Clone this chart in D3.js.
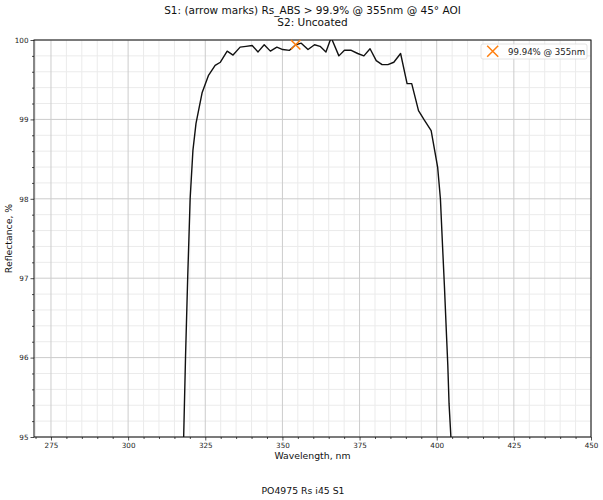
<!DOCTYPE html>
<html><head><meta charset="utf-8">
<script src="https://cdn.jsdelivr.net/npm/d3@7"></script>
<style>body{margin:0;background:#fff}svg{display:block}text{font-family:"DejaVu Sans",sans-serif}</style>
</head><body>
<svg id="c" width="603" height="500"></svg>
<script>
const titleLines = ["S1: (arrow marks) Rs_ABS > 99.9% @ 355nm @ 45° AOI", "S2: Uncoated"];
const xLabel = "Wavelength, nm";
const yLabel = "Reflectance, %";
const footer = "PO4975 Rs i45 S1";
const xTicks = [275, 300, 325, 350, 375, 400, 425, 450];
const yTicks = [95, 96, 97, 98, 99, 100];
const wavelength = [317.5, 318.0, 318.6, 319.3, 320.1, 321.0, 322.0, 324.0, 326.0, 328.2, 329.9, 332.1, 334.0, 336.3, 338.2, 340.2, 342.1, 344.1, 346.1, 348.2, 350.1, 352.3, 354.3, 356.1, 358.3, 360.4, 362.2, 364.1, 365.8, 368.3, 370.1, 372.3, 374.4, 376.4, 378.4, 380.4, 382.3, 384.2, 386.1, 388.3, 390.4, 391.9, 394.1, 396.0, 398.2, 400.3, 401.2, 401.9, 402.5, 403.2, 403.6, 404.0, 404.6, 405.0];
const reflectance = [94.6, 95.0, 96.0, 97.0, 98.0, 98.61, 98.95, 99.34, 99.55, 99.68, 99.72, 99.86, 99.81, 99.91, 99.92, 99.93, 99.85, 99.94, 99.86, 99.91, 99.88, 99.87, 99.94, 99.96, 99.88, 99.94, 99.92, 99.85, 100.03, 99.80, 99.87, 99.87, 99.83, 99.80, 99.89, 99.74, 99.69, 99.69, 99.72, 99.83, 99.45, 99.45, 99.11, 98.99, 98.86, 98.40, 98.0, 97.40, 96.9, 96.26, 95.9, 95.42, 95.0, 94.5];
const markWl = [354.3];
const markR = [99.94];
const legendText = "99.94% @ 355nm";

const svg = d3.select("#c");
const L = 34, R = 591, T = 40, B = 437;
const x = d3.scaleLinear().domain([269.5, 450]).range([L, R]);
const y = d3.scaleLinear().domain([95, 100]).range([B, T]);

svg.append("defs").append("clipPath").attr("id", "clip")
  .append("rect").attr("x", L).attr("y", T).attr("width", R - L).attr("height", B - T);

const g = svg.append("g");
const xMinor = d3.range(270, 451, 5).filter(v => v % 25 !== 0);
const yMinor = d3.range(95, 100.001, 0.2).map(v => +v.toFixed(1)).filter(v => Math.abs(v - Math.round(v)) > 1e-6);

// minor grid
g.selectAll(".xm").data(xMinor).enter().append("line")
  .attr("x1", d => x(d)).attr("x2", d => x(d)).attr("y1", T).attr("y2", B)
  .attr("stroke", "#ebebeb").attr("stroke-width", 1);
g.selectAll(".ym").data(yMinor).enter().append("line")
  .attr("y1", d => y(d)).attr("y2", d => y(d)).attr("x1", L).attr("x2", R)
  .attr("stroke", "#ebebeb").attr("stroke-width", 1);
// major grid
g.selectAll(".xg").data(xTicks).enter().append("line")
  .attr("x1", d => x(d)).attr("x2", d => x(d)).attr("y1", T).attr("y2", B)
  .attr("stroke", "#cccccc").attr("stroke-width", 1);
g.selectAll(".yg").data(yTicks).enter().append("line")
  .attr("y1", d => y(d)).attr("y2", d => y(d)).attr("x1", L).attr("x2", R)
  .attr("stroke", "#cccccc").attr("stroke-width", 1);

// axes
const xAxis = d3.axisBottom(x).tickValues(xTicks).tickSize(3.5).tickPadding(2).tickFormat(d3.format("d"));
const yAxis = d3.axisLeft(y).tickValues(yTicks).tickSize(3.5).tickPadding(2).tickFormat(d3.format("d"));
const xa = svg.append("g").attr("transform", `translate(0,${B})`).call(xAxis);
const ya = svg.append("g").attr("transform", `translate(${L},0)`).call(yAxis);
const xmA = svg.append("g").attr("transform", `translate(0,${B})`).call(d3.axisBottom(x).tickValues(xMinor).tickSize(2).tickFormat(""));
const ymA = svg.append("g").attr("transform", `translate(${L},0)`).call(d3.axisLeft(y).tickValues(yMinor).tickSize(2).tickFormat(""));
[xa, ya, xmA, ymA].forEach(a => {
  a.select(".domain").remove();
  a.selectAll("line").attr("stroke", "#222").attr("stroke-width", 0.8);
  a.selectAll("text").attr("font-size", 7.2).attr("fill", "#222").attr("font-family", "DejaVu Sans");
});

// line
const pts = wavelength.map((w, i) => [w, reflectance[i]]);
svg.append("path").datum(pts).attr("clip-path", "url(#clip)")
  .attr("fill", "none").attr("stroke", "#111").attr("stroke-width", 1.4).attr("stroke-linejoin", "round")
  .attr("d", d3.line().x(d => x(d[0])).y(d => y(d[1])));

// spines
svg.append("rect").attr("x", L).attr("y", T).attr("width", R - L).attr("height", B - T)
  .attr("fill", "none").attr("stroke", "#111").attr("stroke-width", 1);

// marker
function xMark(sel, cx, cy, s) {
  sel.append("path").attr("d", `M${cx - s},${cy - s}L${cx + s},${cy + s}M${cx - s},${cy + s}L${cx + s},${cy - s}`)
    .attr("stroke", "#ff7f0e").attr("stroke-width", 1.5).attr("fill", "none");
}
markWl.forEach((w, i) => xMark(svg, x(w), y(markR[i]), 4.7));

// legend
svg.append("rect").attr("x", 481).attr("y", 44).attr("width", 106).attr("height", 15).attr("rx", 2)
  .attr("fill", "#fff").attr("fill-opacity", 0.8).attr("stroke", "#dddddd").attr("stroke-width", 0.8);
xMark(svg, 492.7, 51.3, 5.5);
svg.append("text").attr("x", 508).attr("y", 54.5).attr("font-size", 8.6).attr("fill", "#222").text(legendText);

// titles
svg.selectAll(".tt").data(titleLines).enter().append("text")
  .attr("x", (L + R) / 2).attr("y", (d, i) => 14 + i * 12).attr("text-anchor", "middle")
  .attr("font-size", 10.5).attr("fill", "#111").text(d => d);
svg.append("text").attr("x", (L + R) / 2).attr("y", 459).attr("text-anchor", "middle")
  .attr("font-size", 9.3).attr("fill", "#111").text(xLabel);
svg.append("text").attr("transform", `translate(12,${(T + B) / 2}) rotate(-90)`).attr("text-anchor", "middle")
  .attr("font-size", 9.3).attr("fill", "#111").text(yLabel);
svg.append("text").attr("x", 303).attr("y", 494).attr("text-anchor", "middle")
  .attr("font-size", 9.3).attr("fill", "#111").text(footer);
</script>
</body></html>
